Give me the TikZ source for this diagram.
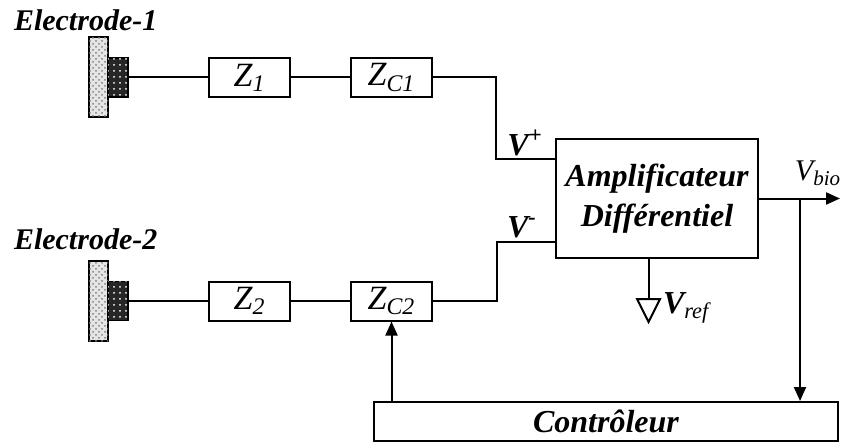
\documentclass[tikz,border=0pt]{standalone}
\usepackage{fontspec}
\setmainfont{Liberation Serif}
\usetikzlibrary{arrows.meta,patterns}

\begin{document}
\begin{tikzpicture}[x=0.5pt,y=-0.5pt,line width=1pt,
    >={Triangle[length=7pt,width=6pt]},
    box/.style={draw,fill=white,minimum width=40.5pt,minimum height=19.5pt,inner sep=0pt,
      font=\fontsize{17}{17}\selectfont\itshape},
    plate/.style={draw,line width=0.6pt,fill=gray!20,minimum width=9.5pt,minimum height=40pt,inner sep=0pt,
      postaction={pattern=crosshatch dots,pattern color=gray}},
    pad/.style={draw,line width=0.6pt,fill=black!85,minimum width=10pt,minimum height=19.5pt,inner sep=0pt,
      postaction={pattern=dots,pattern color=white}},
    elabel/.style={anchor=west,inner sep=0pt,font=\fontsize{15}{15}\selectfont\bfseries\itshape},
    vlabel/.style={inner sep=0pt,font=\fontsize{16}{16}\selectfont\bfseries\itshape}]
  \useasboundingbox (0,0) rectangle (849,443);

  % electrode 1
  \node[elabel] (e1) at (13,20) {Electrode-1};
  \node[plate] (pl1) at (98.5,77) {};
  \node[pad] (pd1) at (118,77.5) {};
  \node[box] (z1) at (249.5,77.5) {Z\textsubscript{1}};
  \node[box] (zc1) at (391.5,77.5) {Z\textsubscript{C1}};
  \draw (pd1) -- (z1);
  \draw (z1) -- (zc1);

  % electrode 2
  \node[elabel] (e2) at (13,239) {Electrode-2};
  \node[plate] (pl2) at (98.5,301) {};
  \node[pad] (pd2) at (118,301) {};
  \node[box] (z2) at (249.5,301) {Z\textsubscript{2}};
  \node[box] (zc2) at (391.5,301) {Z\textsubscript{C2}};
  \draw (pd2) -- (z2);
  \draw (z2) -- (zc2);

  % amplificateur
  \node[draw,minimum width=101pt,minimum height=59.5pt,align=center,inner sep=0pt,
    font=\fontsize{16}{20}\selectfont\bfseries\itshape] (amp) at (657,198.5)
    {Amplificateur\\Différentiel};
  \coordinate (kp) at (496,159);
  \coordinate (km) at (497,242);
  \draw (zc1) -| (kp) -- (kp -| amp.west);
  \draw (zc2) -| (km) -- (km -| amp.west);
  \node[vlabel] (vp) at (525,143) {V\textsuperscript{+}};
  \node[vlabel] (vm) at (522,227) {V\textsuperscript{-}};

  % sortie
  \coordinate (out) at (840,198.5);
  \coordinate (br) at (800,198.5);
  \draw[->] (amp.east) -- (out);
  \node[inner sep=0pt,font=\fontsize{15}{15}\selectfont\itshape] (vbio) at (818,173) {V\textsubscript{bio}};

  % reference
  \coordinate (gnd) at (648.5,299);
  \draw (amp.south -| gnd) -- (gnd);
  \draw (637,299) -- (660,299) -- (648.5,322) -- cycle;
  \node[vlabel,anchor=west] (vref) at (662,308) {V\textsubscript{\mdseries ref}};

  % controleur
  \node[draw,minimum width=232pt,minimum height=19.5pt,inner sep=0pt,
    font=\fontsize{16}{16}\selectfont\bfseries\itshape] (ctrl) at (606,421.5) {Contrôleur};
  \draw[->] (br) -- (br |- ctrl.north);
  \draw[->] (zc2 |- ctrl.north) -- (zc2.south);
\end{tikzpicture}
\end{document}
